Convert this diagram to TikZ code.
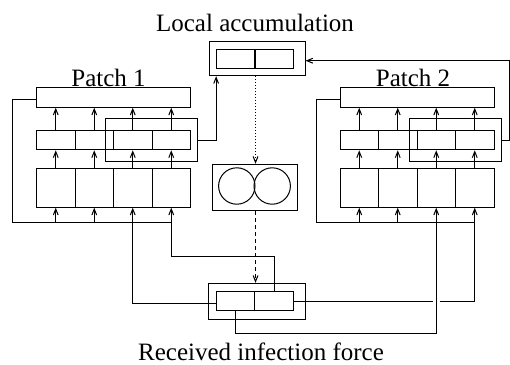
\documentclass[tikz,border=0pt]{standalone}
\usepackage{fontspec}
\setmainfont{Liberation Serif}
\usetikzlibrary{arrows.meta}
\begin{document}
\begin{tikzpicture}[x=0.5pt,y=-0.5pt,line width=0.5pt,
	box/.style={draw,inner sep=0pt,anchor=north west},
	bar/.style={box,minimum width=77pt,minimum height=9.7pt},
	mid/.style={box,minimum width=19.25pt,minimum height=9.65pt},
	low/.style={box,minimum width=19.25pt,minimum height=19.2pt},
	hl/.style={box,minimum width=46pt,minimum height=21.35pt},
	half/.style={draw,inner sep=0pt,minimum width=19.2pt,minimum height=9.6pt},
	arr/.style={-{Straight Barb[length=3pt,width=2.4pt]}},
	lbl/.style={anchor=base,inner sep=0pt,font=\fontsize{12.5}{15}\selectfont}]
	\useasboundingbox (0,0) rectangle (510,365);

	\foreach \p/\ox in {1/36,2/339.5} {
		\node[bar] (top\p) at (\ox,87.3) {};
		\foreach \c in {1,...,4} {
			\node[mid] (mid\p\c) at ({\ox+(\c-1)*38.5},130) {};
			\node[low] (low\p\c) at ({\ox+(\c-1)*38.5},168.3) {};
			\draw[arr] (mid\p\c.north) -- (mid\p\c.north |- top\p.south);
			\draw[arr] (low\p\c.north) -- (mid\p\c.south);
		}
		\node[hl] (hl\p) at ({\ox+69.3},118.3) {};
		\coordinate (fb\p) at ({\ox-23.3},222.7);
		\draw ([yshift=-1pt]top\p.west) -| (fb\p) -- (fb\p -| low\p4.south);
		\foreach \c in {1,2}
			\draw[arr] (low\p\c.south |- fb\p) -- (low\p\c.south);
	}

	\node[draw,inner sep=0pt,minimum width=48pt,minimum height=17pt] (lacc) at (257,58.7) {};
	\node[half] (lac1) at (235.85,58.8) {};
	\node[half] (lac2) at (274.15,58.8) {};

	\node[draw,inner sep=0pt,minimum width=42.5pt,minimum height=23.35pt] (inf) at (254.8,187.6) {};
	\node[draw,circle,inner sep=0pt,minimum size=18.2pt] (c1) at (236.8,186) {};
	\node[draw,circle,inner sep=0pt,minimum size=18.2pt] (c2) at (272.2,186) {};

	\node[draw,inner sep=0pt,minimum width=48.15pt,minimum height=17.85pt] (rif) at (256.85,301.15) {};
	\node[half] (rif1) at (235.65,301) {};
	\node[half] (rif2) at (274.15,301) {};

	\node[lbl] (tlacc) at (255,31) {Local accumulation};
	\node[lbl] (tp1) at (108.5,86) {Patch 1};
	\node[lbl] (tp2) at (413,86) {Patch 2};
	\node[lbl] (trif) at (261,360) {Received infection force};

	\draw[arr] (hl1.east) -| (lac1.west |- lacc.south);
	\draw[arr] (hl2.east) -- ++(7.3,0) |- ([yshift=-1pt]lacc.east);
	\draw[arr,dash pattern=on 0.5pt off 1pt] (lac1.east |- lacc.south) -- (lac1.east |- inf.north);
	\draw[arr,dash pattern=on 2pt off 1.5pt] (lac1.east |- inf.south) -- (lac1.east |- rif.north);
	\draw[arr] ([yshift=-1pt]rif1.west) -| (low13.south);
	\draw[arr] (rif2.north) -- ++(0,-34) -| (low14.south);
	\draw[arr] (rif1.south) -- ++(0,22.6) -| (low23.south);
	\draw (rif2.east) -- ([xshift=-1.7pt]low23.south |- rif2.east);
	\draw[arr] ([xshift=1.7pt]low23.south |- rif2.east) -| (low24.south);
\end{tikzpicture}
\end{document}
